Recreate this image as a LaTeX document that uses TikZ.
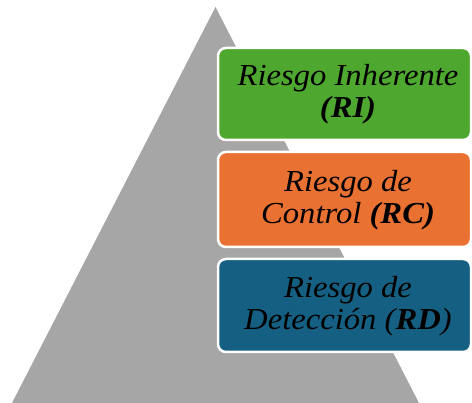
\documentclass[tikz,border=0pt]{standalone}
\usepackage{fontspec}
\newfontfamily\riskfont{Liberation Serif}[FakeStretch=1.07]
\definecolor{tri}{HTML}{A6A6A6}
\definecolor{gbox}{HTML}{4EA72E}
\definecolor{obox}{HTML}{E97132}
\definecolor{bbox}{HTML}{156082}
\begin{document}
\begin{tikzpicture}[x=1pt,y=-1pt,
  riskbox/.style={draw=white,line width=2.5pt,rounded corners=8pt},
  risklabel/.style={align=center,inner sep=0pt,font=\riskfont\fontsize{30.5}{32}\selectfont\itshape,text=black}]
\useasboundingbox (0,0) rectangle (472,403);
\fill[tri] (215.5,7) coordinate (apex) -- (419,403) coordinate (br) -- (12,403) coordinate (bl) -- cycle;
\draw[riskbox,fill=gbox] (218,48) rectangle (471,140);
\draw[riskbox,fill=obox] (218,152) rectangle (471,247);
\draw[riskbox,fill=bbox] (218,259) rectangle (471,352);
\node[risklabel] (ri) at (348,94) {Riesgo Inherente\\\textbf{(RI)}};
\node[risklabel] (rc) at (348,200) {Riesgo de\\Control \textbf{(RC)}};
\node[risklabel] (rd) at (348,306) {Riesgo de\\Detección (\textbf{RD})};
\end{tikzpicture}
\end{document}
